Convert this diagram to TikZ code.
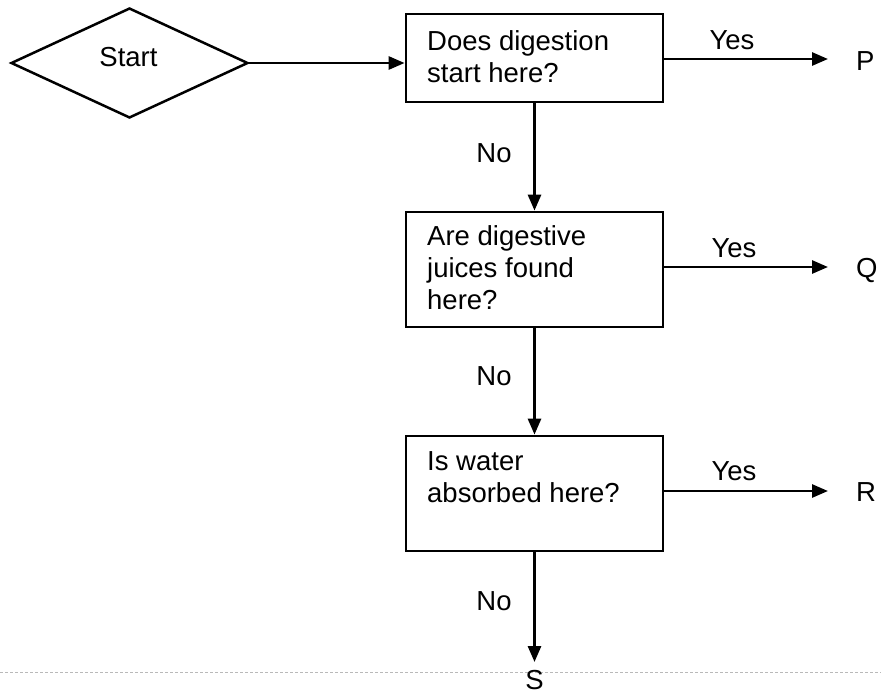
\documentclass[tikz,border=0pt]{standalone}
\usepackage{fontspec}
\setmainfont{Liberation Sans}
\usetikzlibrary{arrows.meta,shapes.geometric}
\begin{document}
\begin{tikzpicture}[x=1pt,y=-1pt,
  lbl/.style={inner sep=0pt, font=\fontsize{27.5}{32}\selectfont},
  qbox/.style={draw, line width=2.8pt, rectangle, minimum width=257pt, inner sep=0pt},
  conn/.style={line width=2.8pt, -{Triangle[length=16pt,width=13pt]}}
]
\useasboundingbox (0,0) rectangle (881,697);
% faint scan line
\draw[gray!55, line width=0.8pt, dash pattern=on 3pt off 2pt] (0,672) -- (881,672);

% start diamond
\node[draw, diamond, line width=2.5pt, inner sep=0pt, minimum width=237pt, minimum height=110pt] (dia) at (129.5,63) {};
\node[lbl] (starttxt) at (128.5,57) {Start};

% question boxes
\node[qbox, minimum height=88pt] (box1) at (534.5,58) {};
\node[qbox, minimum height=115pt] (box2) at (534.5,269.5) {};
\node[qbox, minimum height=115pt] (box3) at (534.5,493.5) {};

\node[lbl, anchor=base west] (t1a) at (427,50) {Does digestion};
\node[lbl, anchor=base west] (t1b) at (427,82) {start here?};
\node[lbl, anchor=base west] (t2a) at (427,245) {Are digestive};
\node[lbl, anchor=base west] (t2b) at (427,277) {juices found};
\node[lbl, anchor=base west] (t2c) at (427,309) {here?};
\node[lbl, anchor=base west] (t3a) at (427,470) {Is water};
\node[lbl, anchor=base west] (t3b) at (427,502) {absorbed here?};

% end points
\coordinate (pend) at (828,59);
\coordinate (qend) at (828,267);
\coordinate (rend) at (828,491);
\coordinate (send) at (534.5,662);
\node[lbl, anchor=base west] (P) at (856,70) {P};
\node[lbl, anchor=base west] (Q) at (856,277) {Q};
\node[lbl, anchor=base west] (R) at (856,501) {R};
\node[lbl, anchor=base] (S) at (534.5,689) {S};

% labels
\node[lbl, anchor=base] (y1) at (732,49) {Yes};
\node[lbl, anchor=base] (y2) at (734,257) {Yes};
\node[lbl, anchor=base] (y3) at (734,480) {Yes};
\node[lbl, anchor=base] (n1) at (494,162) {No};
\node[lbl, anchor=base] (n2) at (494,385) {No};
\node[lbl, anchor=base] (n3) at (494,610) {No};

% connectors
\draw[conn] (dia.east) -- (dia.east -| box1.west);
\draw[conn] (box1.south) -- (box2.north);
\draw[conn] (box2.south) -- (box3.north);
\draw[conn] (box3.south) -- (send);
\draw[conn] (box1.east |- pend) -- (pend);
\draw[conn] (box2.east |- qend) -- (qend);
\draw[conn] (box3.east |- rend) -- (rend);
\end{tikzpicture}
\end{document}
